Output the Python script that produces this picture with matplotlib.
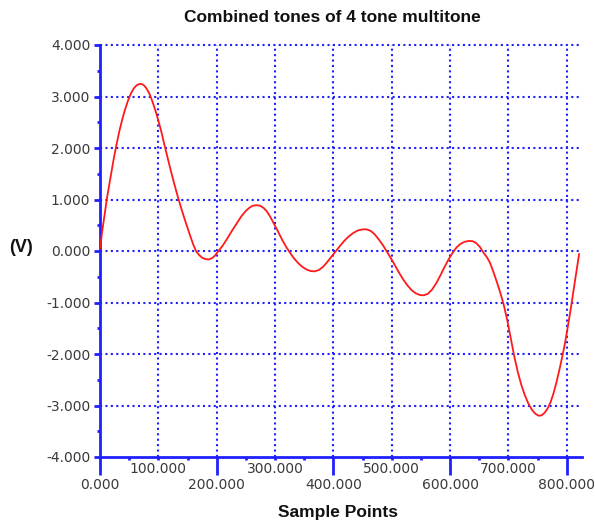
import matplotlib
matplotlib.use("Agg")
import matplotlib.pyplot as plt
from matplotlib.ticker import FixedLocator, FuncFormatter

plt.rcParams['axes.unicode_minus'] = False

# Data
sample_x = [0, 4, 8, 12, 16, 20, 24, 28, 33, 38, 43, 48, 53, 58, 63, 68, 72, 76,
            80, 84, 88, 92, 96, 100, 105, 110, 115, 120, 125, 130, 135, 140, 145,
            150, 155, 160, 165, 170, 175, 180, 186, 192, 197, 203, 210, 218, 226,
            234, 242, 250, 256, 262, 268, 274, 280, 286, 292, 298, 305, 312, 319,
            326, 333, 340, 347, 354, 361, 368, 375, 382, 389, 396, 403, 410, 418,
            426, 434, 442, 450, 457, 464, 471, 478, 485, 492, 499, 506, 513, 520,
            527, 534, 541, 548, 555, 562, 569, 576, 583, 590, 597, 604, 611, 618,
            625, 632, 639, 645, 651, 657, 663, 668, 674, 680, 686, 692, 698, 704,
            710, 716, 722, 728, 734, 740, 746, 752, 757, 762, 767, 772, 777, 782,
            787, 792, 797, 802, 807, 811, 815, 818, 821]
volts = [0.05, 0.4, 0.72, 1.03, 1.3, 1.56, 1.82, 2.05, 2.32, 2.55, 2.75, 2.92,
         3.06, 3.16, 3.22, 3.245, 3.24, 3.21, 3.15, 3.07, 2.96, 2.83, 2.69, 2.53,
         2.32, 2.08, 1.85, 1.62, 1.40, 1.19, 0.99, 0.80, 0.62, 0.45, 0.28, 0.12,
         -0.01, -0.08, -0.13, -0.155, -0.165, -0.14, -0.09, 0.0, 0.1, 0.24, 0.39,
         0.53, 0.67, 0.78, 0.84, 0.88, 0.89, 0.88, 0.84, 0.77, 0.66, 0.53, 0.38,
         0.22, 0.08, -0.04, -0.15, -0.24, -0.31, -0.36, -0.39, -0.395, -0.37,
         -0.31, -0.22, -0.12, -0.02, 0.08, 0.19, 0.28, 0.35, 0.40, 0.42, 0.42,
         0.39, 0.32, 0.22, 0.11, -0.02, -0.15, -0.29, -0.43, -0.56, -0.67, -0.76,
         -0.82, -0.855, -0.86, -0.83, -0.75, -0.63, -0.48, -0.32, -0.17, -0.04,
         0.07, 0.14, 0.18, 0.195, 0.19, 0.15, 0.08, -0.03, -0.12, -0.22, -0.4,
         -0.6, -0.81, -1.05, -1.35, -1.7, -2.05, -2.35, -2.6, -2.8, -2.96, -3.08,
         -3.16, -3.2, -3.19, -3.14, -3.06, -2.94, -2.77, -2.56, -2.32, -2.06,
         -1.78, -1.45, -1.1, -0.8, -0.5, -0.28, -0.06]

x_major = [0, 200, 400, 600, 800]
x_minor = [50, 100, 150, 250, 300, 350, 450, 500, 550, 650, 700, 750]
x_minor_labeled = [100, 300, 500, 700]
x_grid = [100, 200, 300, 400, 500, 600, 700, 800]
y_major = [-4, -3, -2, -1, 0, 1, 2, 3, 4]
y_minor = [-3.5, -2.5, -1.5, -0.5, 0.5, 1.5, 2.5, 3.5]
y_grid = [-3, -2, -1, 0, 1, 2, 3, 4]

title = "Combined tones of 4 tone multitone"
xlabel = "Sample Points"
ylabel = "(V)"

blue = "#2020ff"
label_color = "#3a3a3a"
fig = plt.figure(figsize=(5.95, 5.26), dpi=100)
ax = fig.add_axes([100/595, 1-457/526, 482/595, 412/526])
ax.set_xlim(0, 826)
ax.set_ylim(-4, 4)

dot = (0, (1, 1.6))
for gx in x_grid:
    ax.axvline(gx, color=blue, lw=1.5, linestyle=dot, zorder=1)
for gy in y_grid:
    ax.axhline(gy, color=blue, lw=1.5, linestyle=dot, zorder=1, clip_on=False)

ax.plot(sample_x, volts, color="#ff1a1a", lw=1.3, zorder=3)

for s in ["top", "right"]:
    ax.spines[s].set_visible(False)
for s in ["left", "bottom"]:
    ax.spines[s].set_color(blue)
    ax.spines[s].set_linewidth(2)

ax.xaxis.set_major_locator(FixedLocator(x_major))
ax.xaxis.set_minor_locator(FixedLocator(x_minor))
ax.xaxis.set_major_formatter(FuncFormatter(lambda v, p: f"{v:.3f}"))
ax.xaxis.set_minor_formatter(FuncFormatter(
    lambda v, p: f"{v:.3f}" if round(v) in x_minor_labeled else ""))
ax.tick_params(axis="x", which="major", length=13, width=2, color=blue,
               pad=2, labelsize=10, labelcolor=label_color)
ax.tick_params(axis="x", which="minor", length=2.5, width=2, color=blue,
               pad=1, labelsize=10, labelcolor=label_color)

ax.yaxis.set_major_locator(FixedLocator(y_major))
ax.yaxis.set_minor_locator(FixedLocator(y_minor))
ax.yaxis.set_major_formatter(FuncFormatter(lambda v, p: f"{v:.3f}"))
ax.tick_params(axis="y", which="major", length=4, width=2, color=blue,
               pad=3, labelsize=10, labelcolor=label_color)
ax.tick_params(axis="y", which="minor", length=2.5, width=2, color=blue)

for lab in ax.get_xticklabels(which="both") + ax.get_yticklabels():
    lab.set_family("DejaVu Sans")

fig.text(332.5/595, 1-18/526, title, ha="center", va="center",
         fontsize=12.5, fontweight="bold", family="Liberation Sans", color="#111111")
fig.text(338/595, 1-512/526, xlabel, ha="center", va="center",
         fontsize=12.5, fontweight="bold", family="Liberation Sans", color="#111111")
fig.text(20.5/595, 1-247/526, ylabel, ha="center", va="center",
         fontsize=13, fontweight="bold", family="Liberation Sans", color="#111111")

fig.savefig("out.png", dpi=100)
